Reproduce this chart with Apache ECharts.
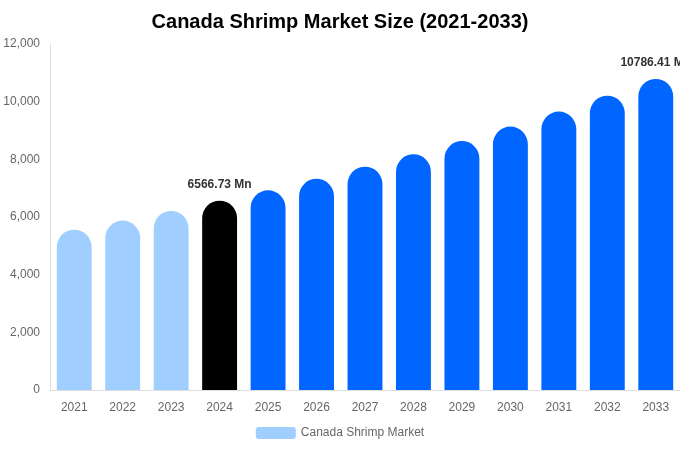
<!DOCTYPE html>
<html><head><meta charset="utf-8">
<script src="https://cdn.jsdelivr.net/npm/echarts@6/dist/echarts.min.js"></script>
<style>html,body{margin:0;padding:0;background:#fff}#c{width:680px;height:450px}</style>
</head><body><div id="c"></div>
<script>
var categories = ['2021','2022','2023','2024','2025','2026','2027','2028','2029','2030','2031','2032','2033'];
var values = [5560, 5875, 6210, 6566.73, 6925, 7325, 7745, 8175, 8635, 9135, 9655, 10205, 10786.41];
var labeledIdx = [3, 12];
var colorHist = '#a0cfff', colorBase = '#000000', colorFcst = '#0066ff';
var yTicks = {min: 0, max: 12000, interval: 2000};

var data = values.map(function(v, i){
  var c = i < 3 ? colorHist : (i === 3 ? colorBase : colorFcst);
  return {
    value: v,
    itemStyle: {color: c, borderRadius: [18, 18, 0, 0]},
    label: {show: labeledIdx.indexOf(i) >= 0}
  };
});
var chart = echarts.init(document.getElementById('c'));
chart.setOption({
  animation: false,
  title: {text: 'Canada Shrimp Market Size (2021-2033)', left: 'center', top: 7,
    textStyle: {fontFamily: 'Liberation Sans, Arial', fontSize: 20, fontWeight: 'bold', color: '#000'}},
  legend: {bottom: 6, left: 'center', itemWidth: 40, itemHeight: 12, itemGap: 10,
    textStyle: {fontFamily: 'Liberation Sans, Arial', fontSize: 12, color: '#666'},
    data: [{name: 'Canada Shrimp Market', itemStyle: {color: colorHist}}]},
  grid: {left: 50, right: 0, top: 44, bottom: 60, containLabel: false},
  xAxis: {type: 'category', data: categories,
    axisLine: {lineStyle: {color: '#ddd'}}, axisTick: {show: false},
    axisLabel: {color: '#666', fontFamily: 'Liberation Sans, Arial', fontSize: 12, margin: 12}},
  yAxis: {type: 'value', min: yTicks.min, max: yTicks.max, interval: yTicks.interval,
    axisLine: {show: true, lineStyle: {color: '#ddd'}}, axisTick: {show: false},
    splitLine: {show: false},
    axisLabel: {color: '#666', fontFamily: 'Liberation Sans, Arial', fontSize: 12, margin: 10,
      formatter: function(v){ return v.toLocaleString('en-US'); }}},
  series: [{name: 'Canada Shrimp Market', type: 'bar', barWidth: '72%', data: data,
    label: {position: 'top', distance: 10, color: '#333', fontWeight: 'bold',
      fontFamily: 'Liberation Sans, Arial', fontSize: 12,
      formatter: function(p){ return p.value + ' Mn'; }}}]
});
</script></body></html>
